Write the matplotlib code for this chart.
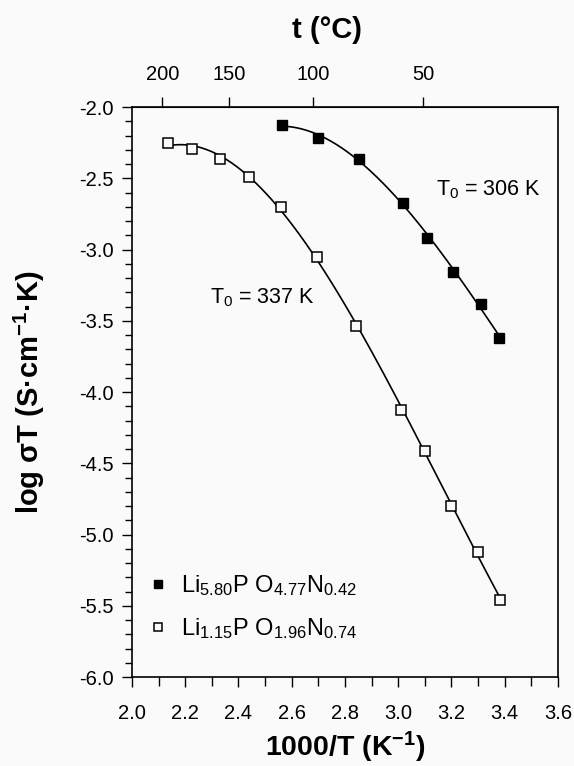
import numpy as np
import matplotlib.pyplot as plt
from matplotlib.ticker import MultipleLocator

plt.rcParams['font.family'] = ['Liberation Sans', 'DejaVu Sans']
plt.rcParams['mathtext.fontset'] = 'custom'
plt.rcParams['mathtext.rm'] = 'Liberation Sans'
plt.rcParams['mathtext.it'] = 'Liberation Sans:italic'
plt.rcParams['mathtext.bf'] = 'Liberation Sans:bold'

# 1. Data (x = 1000/T, y = log sigma T)
x_filled = [2.562, 2.700, 2.854, 3.019, 3.109, 3.207, 3.312, 3.379]
y_filled = [-2.126, -2.215, -2.360, -2.670, -2.917, -3.156, -3.380, -3.619]

x_open = [2.136, 2.226, 2.331, 2.441, 2.559, 2.695, 2.842, 3.010, 3.101, 3.198, 3.300, 3.383]
y_open = [-2.248, -2.295, -2.360, -2.489, -2.700, -3.050, -3.537, -4.126, -4.410, -4.796, -5.120, -5.460]

label_filled = r"Li$_{5.80}$P O$_{4.77}$N$_{0.42}$"
label_open = r"Li$_{1.15}$P O$_{1.96}$N$_{0.74}$"

top_ticks = [200, 150, 100, 50]

# 2. Figure
bg = '#fafafa'
fig = plt.figure(figsize=(5.74, 7.66), dpi=100)
fig.patch.set_facecolor(bg)
ax = fig.add_axes([0.23, 0.116, 0.742, 0.744])
ax.set_facecolor(bg)

# 3. Smooth fitted curves through the points
for xs, ys in [(x_filled, y_filled), (x_open, y_open)]:
    coef = np.polyfit(xs, ys, 3)
    xx = np.linspace(min(xs), max(xs), 200)
    ax.plot(xx, np.polyval(coef, xx), color='black', lw=1.2, zorder=2)

ax.plot(x_filled, y_filled, 's', ms=7, mfc='black', mec='black', ls='none',
        label=label_filled, zorder=3)
ax.plot(x_open, y_open, 's', ms=7, mfc=bg, mec='black', mew=1.1, ls='none',
        label=label_open, zorder=3)

# 4. Annotations
ax.text(3.34, -2.58, r"T$_0$ = 306 K", fontsize=15.5, ha='center', va='center')
ax.text(2.49, -3.34, r"T$_0$ = 337 K", fontsize=15.5, ha='center', va='center')

# 5. Axes
ax.set_xlim(2.0, 3.6)
ax.set_ylim(-6.0, -2.0)
ax.xaxis.set_major_locator(MultipleLocator(0.2))
ax.xaxis.set_minor_locator(MultipleLocator(0.1))
ax.yaxis.set_major_locator(MultipleLocator(0.5))
ax.yaxis.set_minor_locator(MultipleLocator(0.1))
ax.xaxis.set_major_formatter(plt.FormatStrFormatter('%.1f'))
ax.yaxis.set_major_formatter(plt.FormatStrFormatter('%.1f'))
ax.tick_params(which='both', direction='out', labelsize=14.5, width=1, top=False, right=False)
ax.tick_params(which='major', length=7.5, pad=6)
ax.tick_params(which='minor', length=5)
ax.tick_params(axis='x', which='minor', length=6.5)
ax.tick_params(axis='x', which='major', pad=12)
for s in ax.spines.values():
    s.set_linewidth(1.2)

ax.set_xlabel("1000/T (K$^{\\mathbf{-1}}$)", fontsize=20.5, fontweight='bold', labelpad=5)
ax.set_ylabel("log σT (S·cm$^{\\mathbf{-1}}$·K)", fontsize=21, fontweight='bold', labelpad=23)


def inv_to_c(x):
    x = np.asarray(x, dtype=float)
    with np.errstate(divide='ignore'):
        return 1000.0 / x - 273.15


def c_to_inv(t):
    t = np.asarray(t, dtype=float)
    with np.errstate(divide='ignore'):
        return 1000.0 / (t + 273.15)


sec = ax.secondary_xaxis('top', functions=(inv_to_c, c_to_inv))
sec.set_xticks(top_ticks)
sec.set_xticklabels([str(t) for t in top_ticks])
sec.minorticks_off()
sec.tick_params(direction='out', length=7.5, labelsize=14.5, width=1, pad=9)
fig.text(327 / 574, 1 - 30 / 766, "t (°C)", fontsize=21, fontweight='bold',
         ha='center', va='center')

leg = ax.legend(loc='lower left', bbox_to_anchor=(-0.005, 0.035), frameon=False, fontsize=17,
                handlelength=1.0, handletextpad=0.45, markerscale=0.85,
                labelspacing=0.75, borderaxespad=0.3)

plt.savefig("out.png", dpi=100, facecolor=fig.get_facecolor())
